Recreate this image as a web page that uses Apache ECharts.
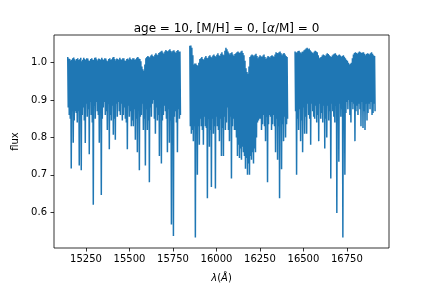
<!DOCTYPE html>
<html>
<head>
<meta charset="utf-8">
<script src="https://cdn.jsdelivr.net/npm/echarts@6/dist/echarts.min.js"></script>
<style>html,body{margin:0;padding:0;background:#fff}#c{width:432px;height:288px}</style>
</head>
<body>
<div id="c"></div>
<script>
// Wavelength ranges (Å) of the three detector chips; each chip is sampled evenly.
const wave1 = [15145, 15790];
const wave2 = [15847, 16406];
const wave3 = [16452, 16909];

// Per-sample upper and lower flux (one pair per screen column).
const top1 = [
  1.015,1.011,1.010,1.006,1.008,1.012,1.014,1.009,1.006,1.010,
  1.012,1.007,1.009,1.013,1.004,1.008,1.013,1.010,1.007,1.012,
  1.011,1.006,1.005,1.010,1.012,1.008,1.008,1.013,1.014,1.009,
  1.006,1.011,1.010,1.007,1.013,1.009,1.007,1.012,1.011,1.006,
  1.004,1.010,1.012,1.008,1.009,1.014,1.015,1.010,1.006,1.011,
  1.010,1.007,1.013,1.009,1.008,1.012,1.012,1.006,1.005,1.010,
  1.011,1.008,1.014,1.010,1.007,1.012,1.012,1.008,1.009,1.013,
  1.015,1.011,1.010,1.004,0.990,0.982,0.978,0.995,1.012,1.015,
  1.018,1.016,1.014,1.019,1.022,1.018,1.016,1.021,1.025,1.022,
  1.020,1.026,1.028,1.030,1.032,1.027,1.024,1.030,1.034,1.031,
  1.030,1.033,1.036,1.031,1.028,1.032,1.033,1.029,1.026,1.031,
  1.034,1.030,1.030
];
const low1 = [
  0.88,0.86,0.85,0.717,0.87,0.786,0.845,0.87,0.865,0.84,
  0.87,0.725,0.89,0.712,0.86,0.88,0.845,0.785,0.89,0.855,
  0.875,0.755,0.895,0.86,0.84,0.62,0.885,0.85,0.895,0.87,
  0.86,0.786,0.89,0.646,0.85,0.88,0.895,0.86,0.87,0.82,
  0.89,0.768,0.86,0.845,0.885,0.807,0.85,0.794,0.89,0.855,
  0.895,0.87,0.86,0.89,0.845,0.86,0.88,0.85,0.84,0.768,
  0.885,0.855,0.87,0.83,0.845,0.83,0.875,0.794,0.85,0.76,
  0.88,0.712,0.855,0.86,0.89,0.82,0.85,0.725,0.875,0.82,
  0.845,0.68,0.88,0.855,0.89,0.90,0.85,0.81,0.88,0.845,
  0.86,0.75,0.88,0.73,0.845,0.86,0.885,0.87,0.85,0.76,
  0.875,0.786,0.845,0.567,0.88,0.536,0.855,0.87,0.84,0.76,
  0.875,0.85,0.86
];
const top2 = [
  1.045,1.046,1.040,1.020,0.995,0.998,0.998,0.994,0.992,1.000,
  1.010,1.012,1.015,1.010,1.008,1.014,1.018,1.013,1.012,1.017,
  1.020,1.016,1.014,1.019,1.022,1.018,1.016,1.021,1.025,1.020,
  1.018,1.024,1.028,1.022,1.020,1.032,1.040,1.036,1.030,1.025,
  1.022,1.026,1.028,1.022,1.018,1.023,1.025,1.028,1.030,1.027,
  1.026,1.030,1.032,1.026,1.020,1.005,0.985,0.975,0.970,0.990,
  1.015,1.019,1.022,1.020,1.017,1.021,1.024,1.018,1.012,1.016,
  1.020,1.017,1.015,1.019,1.022,1.015,1.010,1.014,1.018,1.016,
  1.014,1.018,1.020,1.017,1.016,1.022,1.028,1.026,1.025,1.028,
  1.030,1.025,1.020,1.024,1.026,1.022,1.018,1.015
];
const low2 = [
  0.83,0.81,0.82,0.79,0.83,0.532,0.82,0.70,0.83,0.78,
  0.85,0.83,0.82,0.78,0.855,0.83,0.825,0.637,0.85,0.775,
  0.82,0.667,0.85,0.81,0.83,0.663,0.855,0.83,0.82,0.79,
  0.85,0.75,0.825,0.75,0.855,0.82,0.84,0.88,0.82,0.79,
  0.855,0.69,0.83,0.85,0.82,0.82,0.80,0.75,0.78,0.745,
  0.77,0.74,0.775,0.76,0.75,0.716,0.745,0.70,0.73,0.70,
  0.75,0.74,0.76,0.73,0.77,0.76,0.80,0.84,0.845,0.85,
  0.85,0.82,0.835,0.86,0.83,0.79,0.855,0.68,0.835,0.86,
  0.855,0.82,0.835,0.86,0.83,0.76,0.85,0.74,0.83,0.637,
  0.85,0.715,0.835,0.79,0.855,0.80,0.835,0.85
];
const top3 = [
  1.030,1.027,1.028,1.031,1.032,1.028,1.025,1.029,1.030,1.033,
  1.035,1.038,1.040,1.036,1.038,1.033,1.030,1.027,1.025,1.029,
  1.032,1.030,1.028,1.020,1.012,1.014,1.015,1.019,1.022,1.020,
  1.018,1.022,1.025,1.023,1.020,1.017,1.015,1.019,1.022,1.024,
  1.025,1.021,1.018,1.020,1.022,1.019,1.016,1.018,1.020,1.016,
  1.012,1.008,1.005,1.000,0.995,0.997,1.000,1.012,1.022,1.026,
  1.028,1.026,1.024,1.027,1.030,1.028,1.026,1.027,1.028,1.024,
  1.020,1.023,1.025,1.024,1.022,1.025,1.028,1.024,1.020,1.018
];
const low3 = [
  0.87,0.70,0.85,0.82,0.875,0.79,0.845,0.76,0.88,0.81,
  0.855,0.81,0.89,0.86,0.85,0.78,0.89,0.87,0.855,0.85,
  0.885,0.84,0.86,0.79,0.89,0.85,0.865,0.84,0.885,0.77,
  0.85,0.80,0.885,0.845,0.87,0.69,0.89,0.87,0.855,0.84,
  0.885,0.598,0.86,0.735,0.89,0.855,0.875,0.532,0.885,0.70,
  0.865,0.895,0.875,0.90,0.86,0.84,0.895,0.875,0.89,0.79,
  0.87,0.885,0.86,0.89,0.875,0.83,0.895,0.825,0.87,0.82,
  0.89,0.845,0.865,0.89,0.875,0.895,0.86,0.865,0.89,0.87
];

const xTicks = [15250, 15500, 15750, 16000, 16250, 16500, 16750];
const yTicks = [0.6, 0.7, 0.8, 0.9, 1.0];

// Interleave the upper and lower flux of each sample along the wavelength grid.
function toPairs(range, top, low) {
  const n = top.length;
  const step = (range[1] - range[0]) / (n - 1);
  const out = [];
  for (let i = 0; i < n; i++) {
    const w = range[0] + i * step;
    out.push([w, top[i]]);
    out.push([w + step / 2, low[i]]);
  }
  return out;
}

const FONT = 'DejaVu Sans';
const chart = echarts.init(document.getElementById('c'), null, {renderer: 'canvas'});
const lineSeries = (d) => ({
  type: 'line', data: d, showSymbol: false, symbol: 'none',
  lineStyle: {color: '#1f77b4', width: 1.5}, itemStyle: {color: '#1f77b4'},
  animation: false, silent: true
});
chart.setOption({
  animation: false,
  backgroundColor: '#fff',
  title: {
    text: '{a|age = 10, [M/H] = 0, [}{i|α}{a|/M] = 0}',
    left: 221.5, textAlign: 'center', top: 18,
    textStyle: {
      fontWeight: 'normal',
      rich: {
        a: {fontFamily: FONT, fontSize: 12, color: '#000', fontWeight: 'normal'},
        i: {fontFamily: FONT, fontSize: 12, color: '#000', fontStyle: 'italic', fontWeight: 'normal'}
      }
    }
  },
  grid: {left: 54, right: 43, top: 35, bottom: 36, show: true, borderColor: '#000', borderWidth: 0.8, containLabel: false},
  xAxis: {
    type: 'value', min: 15066, max: 16992,
    axisLine: {show: false},
    splitLine: {show: false},
    axisTick: {show: true, length: 3.5, lineStyle: {color: '#000', width: 0.8}, customValues: xTicks},
    axisLabel: {fontFamily: FONT, fontSize: 10, color: '#000', margin: 6, customValues: xTicks, formatter: v => String(v)},
    name: '{i|λ}{a|(}{i|Å}{a|)}',
    nameLocation: 'middle', nameGap: 25,
    nameTextStyle: {
      rich: {
        a: {fontFamily: FONT, fontSize: 10, color: '#000'},
        i: {fontFamily: FONT, fontSize: 10, color: '#000', fontStyle: 'italic'}
      }
    }
  },
  yAxis: {
    type: 'value', min: 0.504, max: 1.074,
    axisLine: {show: false},
    splitLine: {show: false},
    axisTick: {show: true, length: 3.5, lineStyle: {color: '#000', width: 0.8}, customValues: yTicks},
    axisLabel: {fontFamily: FONT, fontSize: 10, color: '#000', margin: 7, customValues: yTicks, formatter: v => v.toFixed(1)},
    name: 'flux', nameLocation: 'middle', nameGap: 29, nameRotate: 90,
    nameTextStyle: {fontFamily: FONT, fontSize: 10, color: '#000'}
  },
  series: [
    lineSeries(toPairs(wave1, top1, low1)),
    lineSeries(toPairs(wave2, top2, low2)),
    lineSeries(toPairs(wave3, top3, low3))
  ]
});
</script>
</body>
</html>
